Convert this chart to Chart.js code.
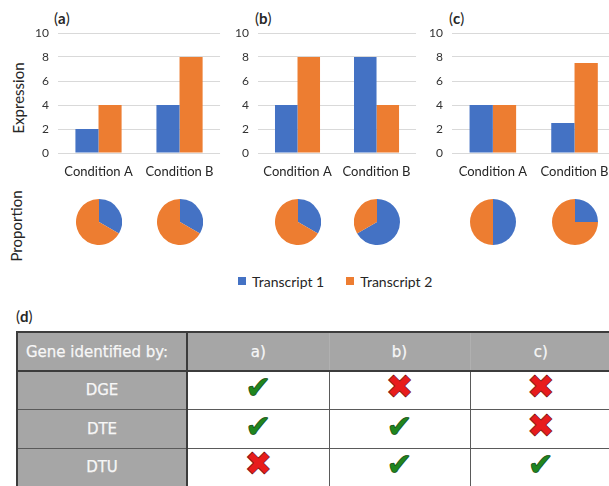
<!DOCTYPE html>
<html>
<head>
<meta charset="utf-8">
<script src="https://cdn.jsdelivr.net/npm/chart.js@4.4.1/dist/chart.umd.min.js"></script>
<style>
  html, body { margin: 0; padding: 0; background: #fff; }
  #fig { position: relative; width: 609px; height: 486px; overflow: hidden;
         font-family: Lato, "Open Sans", sans-serif; color: #262626; }
  .abs { position: absolute; }
  canvas.abs { display: block; }
  .tag { position: absolute; font-size: 15px; line-height: 18px; color: #262626; }
  .tag b { font-weight: 700; }
  .vtitle { position: absolute; font-size: 15px; line-height: 18px; white-space: nowrap;
            transform: translate(-50%, -50%) rotate(-90deg); color: #262626; }
  #legend { position: absolute; top: 273px; height: 16px; display: flex; align-items: center;
            font-size: 14px; color: #262626; white-space: nowrap; }
  #legend .sw { width: 8px; height: 8px; margin-right: 6px; }
  #legend .item { display: flex; align-items: center; margin-right: 22px; }
  #tbl { position: absolute; left: 16px; top: 331px; border-collapse: collapse;
         table-layout: fixed; font-family: "DejaVu Sans", sans-serif; font-size: 15px; }
  #tbl td { padding: 0; text-align: center; vertical-align: middle; overflow: hidden; }
  #tbl td.hd { background: #a6a6a6; color: #f7f7f7; -webkit-text-stroke: 0.25px #f7f7f7; }
  #tbl td.mark { background: #fff; line-height: 30px; }
  .ok { color: #1f861f; -webkit-text-stroke: 0.8px #124e12; font-size: 31px; }
  .no { color: #e81c1c; -webkit-text-stroke: 0.8px #7a1010; font-size: 33px; }
</style>
</head>
<body>
<div id="fig">
  <div class="tag" style="left:54px;top:9px">(<b>a</b>)</div>
  <div class="tag" style="left:255px;top:9px">(<b>b</b>)</div>
  <div class="tag" style="left:449px;top:9px">(<b>c</b>)</div>
  <div class="tag" style="left:16px;top:307px">(<b>d</b>)</div>

  <div class="vtitle" style="left:18px;top:98px">Expression</div>
  <div class="vtitle" style="left:16px;top:226px">Proportion</div>

  <canvas id="barA" class="abs" width="225" height="185" style="left:0;top:0"></canvas>
  <canvas id="barB" class="abs" width="222" height="185" style="left:200px;top:0"></canvas>
  <canvas id="barC" class="abs" width="226" height="185" style="left:394px;top:0"></canvas>

  <div id="pies"></div>
  <div id="legend"></div>
  <table id="tbl"></table>
</div>

<script>
// Expression of the two transcripts under each condition, per scenario
const conditions = ['Condition A', 'Condition B'];
const seriesNames = ['Transcript 1', 'Transcript 2'];
const aTranscript1 = [2, 4];
const aTranscript2 = [4, 8];
const bTranscript1 = [4, 8];
const bTranscript2 = [8, 4];
const cTranscript1 = [4, 2.5];
const cTranscript2 = [4, 7.5];
const yTicks = [0, 2, 4, 6, 8, 10];

// Which analysis picks up the gene in each scenario
const scenarios = ['a)', 'b)', 'c)'];
const methods = ['DGE', 'DTE', 'DTU'];
const dgeCalls = [true, false, false];
const dteCalls = [true, true, false];
const dtuCalls = [false, true, true];

const BLUE = '#4472c4';
const ORANGE = '#ed7d31';
const FONT = 'Lato';

function barChart(id, t1, t2) {
  return new Chart(document.getElementById(id), {
    type: 'bar',
    data: {
      labels: conditions,
      datasets: [
        { label: seriesNames[0], data: t1, backgroundColor: BLUE, borderWidth: 0,
          categoryPercentage: 0.57, barPercentage: 1 },
        { label: seriesNames[1], data: t2, backgroundColor: ORANGE, borderWidth: 0,
          categoryPercentage: 0.57, barPercentage: 1 }
      ]
    },
    options: {
      responsive: false, animation: false, events: [],
      layout: { padding: { top: 33, right: 2, bottom: 0, left: 0 } },
      plugins: { legend: { display: false }, tooltip: { enabled: false }, title: { display: false } },
      scales: {
        x: {
          grid: { display: false, drawTicks: false },
          border: { display: false },
          ticks: { font: { family: FONT, size: 13 }, color: '#262626', padding: 11,
                   maxRotation: 0, autoSkip: false },
          afterFit(s) { s.height = 32; }
        },
        y: {
          min: 0, max: 10,
          grid: { color: '#d9d9d9', lineWidth: 1, drawTicks: false },
          border: { display: false },
          ticks: { font: { family: FONT, size: 12 }, color: '#333333', padding: 9 },
          afterBuildTicks(s) { s.ticks = yTicks.map(v => ({ value: v })); },
          afterFit(s) { s.width = 58; }
        }
      }
    }
  });
}

const panels = [
  { id: 'barA', t1: aTranscript1, t2: aTranscript2 },
  { id: 'barB', t1: bTranscript1, t2: bTranscript2 },
  { id: 'barC', t1: cTranscript1, t2: cTranscript2 }
];

const PIE_D = 46;
const PIE_CY = 222;
const pieHost = document.getElementById('pies');

panels.forEach(p => {
  const chart = barChart(p.id, p.t1, p.t2);
  const left = parseFloat(chart.canvas.style.left) || 0;
  // one pie of transcript proportions under each condition, centred on its category
  conditions.forEach((c, i) => {
    const cx = left + chart.scales.x.getPixelForValue(i);
    const cv = document.createElement('canvas');
    cv.className = 'abs';
    cv.width = PIE_D; cv.height = PIE_D;
    cv.style.left = (cx - PIE_D / 2) + 'px';
    cv.style.top = (PIE_CY - PIE_D / 2) + 'px';
    pieHost.appendChild(cv);
    new Chart(cv, {
      type: 'pie',
      data: {
        labels: seriesNames,
        datasets: [{ data: [p.t1[i], p.t2[i]], backgroundColor: [BLUE, ORANGE],
                     borderWidth: 0, hoverOffset: 0, offset: 0 }]
      },
      options: {
        responsive: false, animation: false, events: [],
        layout: { padding: 0 },
        plugins: { legend: { display: false }, tooltip: { enabled: false } }
      }
    });
  });
});

// shared legend
const legend = document.getElementById('legend');
legend.style.left = '238px';
[BLUE, ORANGE].forEach((col, k) => {
  const it = document.createElement('div');
  it.className = 'item';
  it.innerHTML = '<div class="sw" style="background:' + col + '"></div><span>' + seriesNames[k] + '</span>';
  legend.appendChild(it);
});

// summary table
const colW = [170, 142, 141, 141];
const rowH = [39, 38, 39, 38];
const calls = [dgeCalls, dteCalls, dtuCalls];
const DARK = '2px solid #3c3c3c';
const THIN = '1px solid #5a5a5a';
const tbl = document.getElementById('tbl');
tbl.style.width = colW.reduce((a, b) => a + b, 0) + 'px';
const cg = document.createElement('colgroup');
colW.forEach(w => { const c = document.createElement('col'); c.style.width = w + 'px'; cg.appendChild(c); });
tbl.appendChild(cg);

const hr = tbl.insertRow();
hr.style.height = rowH[0] + 'px';
const h0 = hr.insertCell();
h0.className = 'hd';
h0.textContent = 'Gene identified by:';
h0.style.textAlign = 'left';
h0.style.paddingLeft = '8px';
h0.style.borderTop = DARK; h0.style.borderLeft = DARK; h0.style.borderBottom = DARK; h0.style.borderRight = DARK;
scenarios.forEach((s, j) => {
  const c = hr.insertCell();
  c.className = 'hd';
  c.textContent = s;
  c.style.borderTop = DARK; c.style.borderBottom = DARK;
  if (j < scenarios.length - 1) c.style.borderRight = '1px solid #b0b0b0';
});

methods.forEach((m, r) => {
  const tr = tbl.insertRow();
  tr.style.height = rowH[r + 1] + 'px';
  const c0 = tr.insertCell();
  c0.className = 'hd';
  c0.textContent = m;
  c0.style.borderLeft = DARK; c0.style.borderRight = DARK; c0.style.borderBottom = THIN;
  calls[r].forEach((hit, j) => {
    const c = tr.insertCell();
    c.className = 'mark';
    c.innerHTML = hit ? '<span class="ok">\u2714</span>' : '<span class="no">\u2716</span>';
    c.style.borderBottom = THIN;
    if (j < scenarios.length - 1) c.style.borderRight = THIN;
  });
});
</script>
</body>
</html>
